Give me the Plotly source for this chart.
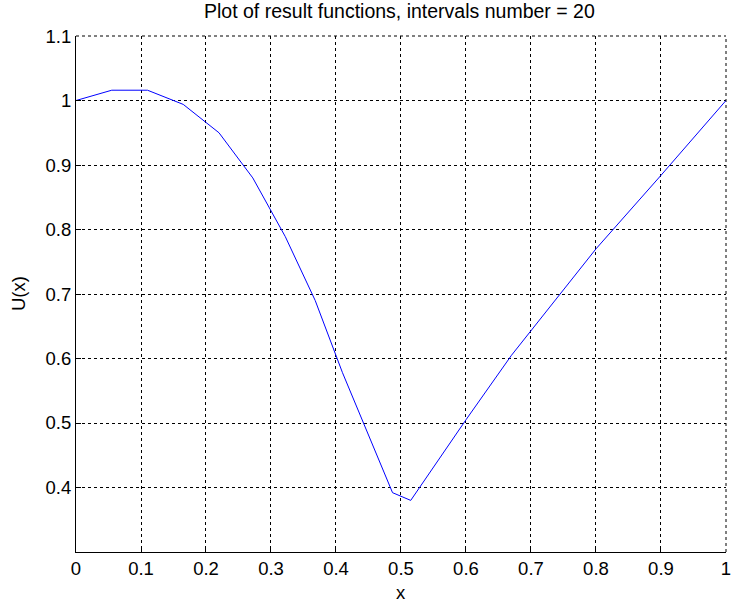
import plotly.graph_objects as go

x_vals = [0.0, 0.055, 0.11, 0.165, 0.22, 0.272, 0.322, 0.368, 0.41, 0.487, 0.515, 0.6, 0.67, 0.8, 0.9, 1.0]
u_vals = [1.0, 1.016, 1.016, 0.994, 0.950, 0.880, 0.789, 0.690, 0.578, 0.392, 0.380, 0.505, 0.605, 0.770, 0.884, 1.0]

x_ticks = [0, 0.1, 0.2, 0.3, 0.4, 0.5, 0.6, 0.7, 0.8, 0.9, 1.0]
x_tick_text = ["0", "0.1", "0.2", "0.3", "0.4", "0.5", "0.6", "0.7", "0.8", "0.9", "1"]
y_ticks = [0.4, 0.5, 0.6, 0.7, 0.8, 0.9, 1.0, 1.1]
y_tick_text = ["0.4", "0.5", "0.6", "0.7", "0.8", "0.9", "1", "1.1"]

title_text = "Plot of result functions, intervals number = 20"
x_title = "x"
y_title = "U(x)"

FONT = "Liberation Sans, Arial, sans-serif"
L, R, T, B = 76, 5, 36, 52
W, H = 731, 604
PW, PH = W - L - R, H - T - B

fig = go.Figure()
fig.add_trace(go.Scatter(x=x_vals, y=u_vals, mode="lines",
                         line=dict(color="#0000ff", width=1), showlegend=False,
                         hoverinfo="skip"))

fig.update_layout(
    width=W, height=H,
    margin=dict(l=L, r=R, t=T, b=B, autoexpand=False),
    paper_bgcolor="white", plot_bgcolor="white",
    font=dict(family=FONT, size=18.5, color="black"),
)

axis_common = dict(
    showline=True, linecolor="black", linewidth=1,
    ticks="inside", ticklen=5, tickcolor="black",
    showgrid=True, gridcolor="black", griddash="dot", gridwidth=1,
    zeroline=False, mirror=False, automargin=False,
    ticklabeloverflow="allow",
    tickfont=dict(family=FONT, size=18.5, color="black"),
)
fig.update_xaxes(range=[0, 1.00005], tickvals=x_ticks, ticktext=x_tick_text, **axis_common)
fig.update_yaxes(range=[0.3, 1.10005], tickvals=y_ticks, ticktext=y_tick_text, **axis_common)

# dotted top/right edges (grid lines at the range limits, as in the reference)
fig.add_shape(type="line", xref="paper", yref="paper", x0=0, x1=1, y0=1, y1=1,
              line=dict(color="black", width=1, dash="dot"), layer="below")
fig.add_shape(type="line", xref="paper", yref="paper", x0=1, x1=1, y0=0, y1=1,
              line=dict(color="black", width=1, dash="dot"), layer="below")

fig.add_annotation(text=title_text, xref="paper", yref="paper",
                   x=(399 - L) / PW, y=(H - B - 11) / PH, xanchor="center", yanchor="middle",
                   showarrow=False, font=dict(family=FONT, size=19.5, color="black"))
fig.add_annotation(text=x_title, xref="paper", yref="paper",
                   x=(401 - L) / PW, y=(H - B - 592) / PH, xanchor="center", yanchor="middle",
                   showarrow=False, font=dict(family=FONT, size=18.5, color="black"))
fig.add_annotation(text=y_title, xref="paper", yref="paper", textangle=-90,
                   x=(18 - L) / PW, y=(H - B - 294) / PH, xanchor="center", yanchor="middle",
                   showarrow=False, font=dict(family=FONT, size=18.5, color="black"))

fig.write_html("out.html",
               config={"displayModeBar": False},
               post_script="document.body.style.margin='0';document.body.style.overflow='hidden';")
